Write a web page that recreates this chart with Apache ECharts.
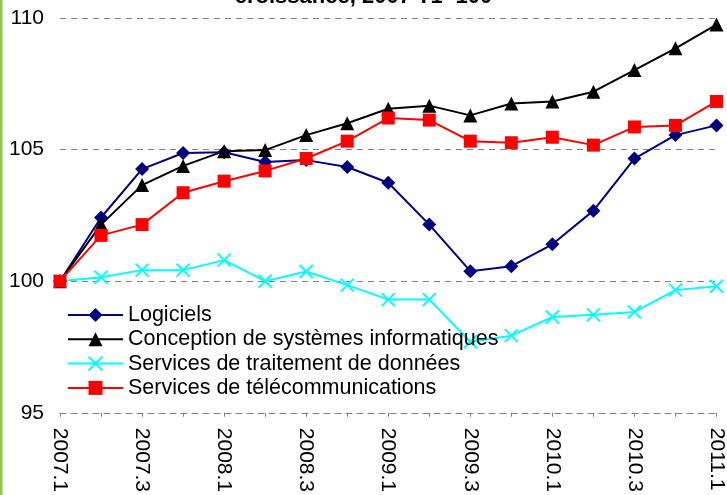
<!DOCTYPE html>
<html>
<head>
<meta charset="utf-8">
<script src="https://cdn.jsdelivr.net/npm/echarts@6/dist/echarts.min.js"></script>
<style>
html, body { margin: 0; padding: 0; background: #fff; }
#chart { width: 727px; height: 495px; }
</style>
</head>
<body>
<div id="chart"></div>
<script>
var quarters = ['2007.1','2007.2','2007.3','2007.4','2008.1','2008.2','2008.3','2008.4',
                '2009.1','2009.2','2009.3','2009.4','2010.1','2010.2','2010.3','2010.4','2011.1'];
var logiciels = [100, 102.42, 104.26, 104.87, 104.9, 104.53, 104.6, 104.34, 103.74, 102.15,
                 100.38, 100.57, 101.4, 102.68, 104.66, 105.55, 105.92];
var conception = [100, 102.15, 103.65, 104.38, 104.94, 104.98, 105.55, 106.0, 106.55, 106.67,
                  106.3, 106.75, 106.83, 107.2, 108.02, 108.85, 109.75];
var traitement = [100, 100.15, 100.42, 100.42, 100.8, 100.0, 100.37, 99.85, 99.3, 99.3,
                  97.7, 97.93, 98.64, 98.72, 98.83, 99.66, 99.81];
var telecom = [100, 101.74, 102.15, 103.36, 103.8, 104.19, 104.66, 105.32, 106.2, 106.12,
               105.32, 105.26, 105.47, 105.17, 105.86, 105.92, 106.83];
var seriesNames = ['Logiciels', 'Conception de systèmes informatiques',
                   'Services de traitement de données', 'Services de télécommunications'];
var titleText = 'croissance, 2007 T1=100';

var crossSymbol = 'path://M0,0L10,10M10,0L0,10';

function lineSeries(name, data, color, symbol, size, extraItem) {
    var item = { color: color };
    if (extraItem) { item.borderColor = color; item.borderWidth = 2; }
    return {
        name: name,
        type: 'line',
        data: data,
        symbol: symbol,
        symbolSize: size,
        lineStyle: { color: color, width: 2 },
        itemStyle: item,
        animation: false
    };
}

var myChart = echarts.init(document.getElementById('chart'));
var option = {
    textStyle: { fontFamily: 'Liberation Sans, Arial, sans-serif' },
    title: {
        text: titleText,
        left: 'center',
        top: -14,
        padding: 0,
        textStyle: { fontSize: 22, fontWeight: 'bold', color: '#000', lineHeight: 22 }
    },
    graphic: [{
        type: 'rect',
        shape: { x: 0, y: 0, width: 2.5, height: 495 },
        style: { fill: '#8cc84b' }
    }],
    legend: {
        orient: 'vertical',
        left: 67,
        top: 304,
        padding: 0,
        itemWidth: 55,
        itemHeight: 17.5,
        itemGap: 2.3,
        textStyle: { fontSize: 21.5, color: '#000', lineHeight: 21 },
        data: seriesNames
    },
    grid: {
        left: 60,
        right: 10,
        top: 18,
        bottom: 80
    },
    xAxis: {
        type: 'category',
        boundaryGap: false,
        data: quarters,
        axisLine: { lineStyle: { color: '#808080', type: [6, 5], width: 1 } },
        axisTick: { show: true, interval: 0, length: 4, lineStyle: { color: '#808080' } },
        axisLabel: { interval: 1, rotate: -90, fontSize: 21, color: '#000', margin: 15 },
        splitLine: { show: false }
    },
    yAxis: {
        type: 'value',
        min: 95,
        max: 110,
        interval: 5,
        axisLine: { show: false },
        axisTick: { show: false },
        axisLabel: { fontSize: 21, color: '#000', margin: 16 },
        splitLine: { show: true, lineStyle: { color: '#808080', type: [6, 5], width: 1 } }
    },
    series: [
        lineSeries(seriesNames[0], logiciels, '#000080', 'diamond', 14),
        lineSeries(seriesNames[1], conception, '#000000', 'triangle', 14),
        lineSeries(seriesNames[2], traitement, '#00ffff', crossSymbol, 13, true),
        lineSeries(seriesNames[3], telecom, '#ff0000', 'rect', 13)
    ]
};
myChart.setOption(option);
</script>
</body>
</html>
